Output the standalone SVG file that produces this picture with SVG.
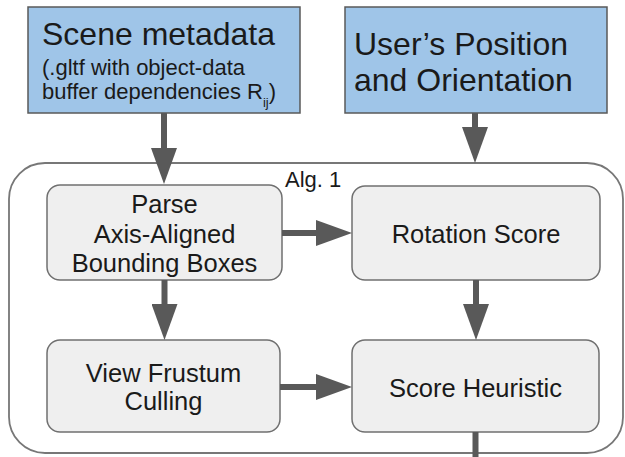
<svg xmlns="http://www.w3.org/2000/svg" width="625" height="457" viewBox="0 0 625 457">
  <style>
    .input { fill: #9fc5e8; stroke: #595959; stroke-width: 1.5; }
    .step { fill: #efefef; stroke: #707070; stroke-width: 1.5; }
    .frame { fill: #ffffff; stroke: #777777; stroke-width: 1.8; }
    .big { font-family: "Liberation Sans", Arial, sans-serif; font-size: 32px; fill: #1a1a1a; }
    .mid { font-family: "Liberation Sans", Arial, sans-serif; font-size: 22px; fill: #1a1a1a; }
    .lbl { font-family: "Liberation Sans", Arial, sans-serif; font-size: 25.5px; fill: #1a1a1a; text-anchor: middle; }
    .conn { stroke: #595959; stroke-width: 6; fill: none; marker-end: url(#head); }
  </style>
  <defs>
    <marker id="head" viewBox="0 0 36 26" markerWidth="36" markerHeight="26" refX="0" refY="13" orient="auto" markerUnits="userSpaceOnUse">
      <path d="M0,0 L36,13 L0,26 Z" fill="#595959"/>
    </marker>
  </defs>
  <rect width="625" height="457" fill="#ffffff"/>

  <g id="alg1">
    <rect class="frame" x="9" y="163" width="614" height="290" rx="36" ry="36"/>
    <text class="mid" x="285" y="187">Alg. 1</text>
  </g>

  <g id="scene-metadata">
    <rect class="input" x="28" y="7" width="272" height="106"/>
    <text class="big" x="42" y="45">Scene metadata</text>
    <text class="mid" x="42" y="75">(.gltf with object-data</text>
    <text class="mid" x="42" y="99">buffer dependencies R<tspan font-size="13" dy="8">ij</tspan><tspan dy="-8">)</tspan></text>
  </g>

  <g id="user-position">
    <rect class="input" x="345" y="7" width="262" height="106"/>
    <text class="big" x="354" y="55">User’s Position</text>
    <text class="big" x="354" y="91">and Orientation</text>
  </g>

  <g id="parse-aabb">
    <rect class="step" x="47" y="185" width="235" height="95" rx="13" ry="13"/>
    <text class="lbl" x="164.5" y="213">Parse</text>
    <text class="lbl" x="164.5" y="243">Axis-Aligned</text>
    <text class="lbl" x="164.5" y="272">Bounding Boxes</text>
  </g>

  <g id="view-frustum-culling">
    <rect class="step" x="47" y="340" width="233" height="92" rx="13" ry="13"/>
    <text class="lbl" x="163.5" y="382">View Frustum</text>
    <text class="lbl" x="163.5" y="410">Culling</text>
  </g>

  <g id="rotation-score">
    <rect class="step" x="352" y="186" width="248" height="94" rx="13" ry="13"/>
    <text class="lbl" x="476" y="243">Rotation Score</text>
  </g>

  <g id="score-heuristic">
    <rect class="step" x="352" y="340" width="247" height="92" rx="13" ry="13"/>
    <text class="lbl" x="475.5" y="397">Score Heuristic</text>
  </g>

  <g id="connectors">
    <line class="conn" x1="164" y1="113" x2="164" y2="148"/>
    <line class="conn" x1="475" y1="113" x2="475" y2="127"/>
    <line class="conn" x1="282" y1="233" x2="316" y2="233"/>
    <line class="conn" x1="164.5" y1="280" x2="164.5" y2="304"/>
    <line class="conn" x1="476" y1="280" x2="476" y2="304"/>
    <line class="conn" x1="280" y1="387" x2="316" y2="387"/>
    <line x1="475.5" y1="432" x2="475.5" y2="457" stroke="#595959" stroke-width="6"/>
  </g>
</svg>
